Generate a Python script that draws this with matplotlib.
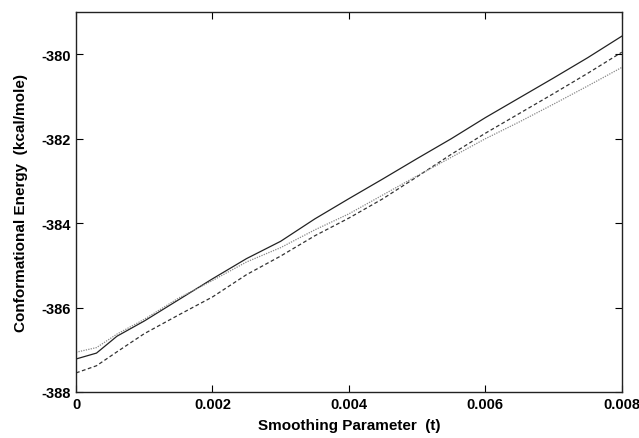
import matplotlib
matplotlib.use('Agg')
import matplotlib.pyplot as plt

# smoothing parameter values (x) and energies for the three curves
t = [0, 0.0003, 0.0006, 0.001, 0.0015, 0.002, 0.0025, 0.003, 0.0035,
     0.004, 0.0045, 0.005, 0.0055, 0.006, 0.0065, 0.007, 0.0075, 0.008]

e_solid = [-387.22, -387.08, -386.68, -386.32, -385.82, -385.32, -384.84,
           -384.43, -383.90, -383.42, -382.95, -382.47, -382.00, -381.50,
           -381.03, -380.56, -380.08, -379.57]
e_dashed = [-387.55, -387.38, -387.05, -386.62, -386.18, -385.75, -385.22,
            -384.78, -384.30, -383.88, -383.42, -382.90, -382.37, -381.87,
            -381.40, -380.93, -380.45, -379.95]
e_dotted = [-387.06, -386.95, -386.63, -386.28, -385.78, -385.36, -384.92,
            -384.58, -384.16, -383.78, -383.33, -382.88, -382.44, -382.00,
            -381.60, -381.18, -380.75, -380.31]

x_ticks = [0, 0.002, 0.004, 0.006, 0.008]
x_tick_labels = ['0', '0.002', '0.004', '0.006', '0.008']
y_ticks = [-388, -386, -384, -382, -380]
y_tick_labels = ['-388', '-386', '-384', '-382', '-380']

plt.rcParams['font.family'] = ['Liberation Sans', 'DejaVu Sans']

fig = plt.figure(figsize=(6.39, 4.39), dpi=100)
ax = fig.add_axes([0.119, 0.105, 0.854, 0.865])

ax.plot(t, e_solid, color='#222222', linestyle='-', linewidth=0.9)
ax.plot(t, e_dashed, color='#333333', linestyle=(0, (3, 2)), linewidth=0.9)
ax.plot(t, e_dotted, color='#888888', linestyle=(0, (1, 1)), linewidth=0.9)

ax.set_xlim(0, 0.008)
ax.set_ylim(-388, -379)

ax.set_xticks(x_ticks)
ax.set_xticklabels(x_tick_labels, fontsize=10.5, fontweight='bold')
ax.set_yticks(y_ticks)
ax.set_yticklabels(y_tick_labels, fontsize=10.5, fontweight='bold')
ax.tick_params(direction='in', length=5, width=0.8, top=True, right=True, pad=4)

for s in ax.spines.values():
    s.set_linewidth(1.0)
    s.set_color('#222222')

ax.set_xlabel('Smoothing Parameter  (t)', fontsize=11, fontweight='bold', labelpad=5)
ax.set_ylabel('Conformational Energy  (kcal/mole)', fontsize=11, fontweight='bold', labelpad=9)

plt.savefig('out.png', dpi=100)
